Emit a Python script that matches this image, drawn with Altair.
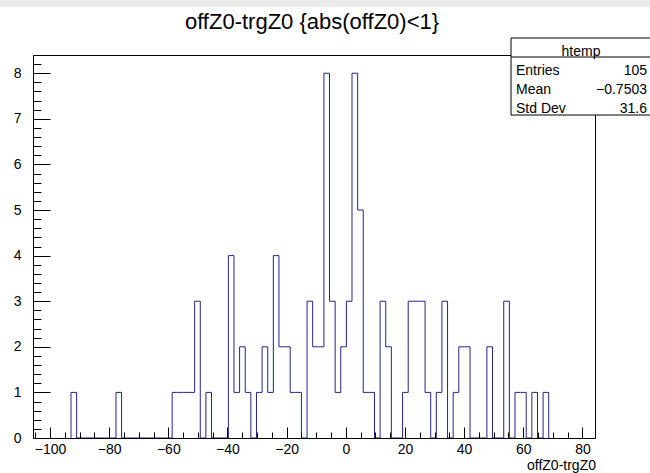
import altair as alt
import pandas as pd

FONT = "Liberation Sans"

# ---- data ----
title_text = "offZ0-trgZ0 {abs(offZ0)<1}"
x_axis_title = "offZ0-trgZ0"
bin_start = -92.9          # lower edge of first filled bin
bin_width = 1.9
counts = [1, 0, 0, 0, 0, 0, 0, 0, 1, 0,
          0, 0, 0, 0, 0, 0, 0, 0, 1, 1,
          1, 1, 3, 0, 1, 0, 0, 0, 4, 1,
          2, 1, 0, 1, 2, 1, 4, 2, 2, 1,
          1, 0, 3, 2, 2, 8, 3, 1, 2, 3,
          8, 5, 1, 1, 0, 3, 2, 0, 0, 1,
          3, 3, 3, 1, 0, 1, 3, 0, 1, 2,
          2, 0, 0, 0, 2, 0, 0, 3, 0, 1,
          1, 0, 1, 0, 1]
x_major = [-100, -80, -60, -40, -20, 0, 20, 40, 60, 80]
x_minor = list(range(-105, 85, 5))
y_major = [0, 1, 2, 3, 4, 5, 6, 7, 8]
y_minor = [round(0.2 * i, 1) for i in range(43)]
x_domain = [-105.75, 84.25]
y_domain = [0, 8.4]
stat_title = "htemp"
stat_names = ["Entries", "Mean", "Std Dev"]
stat_values = ["105", "\u22120.7503", "31.6"]

# ---- histogram outline vertices ----
xs, ys = [bin_start], [0]
for i, c in enumerate(counts):
    lo = bin_start + i * bin_width
    xs += [lo, lo + bin_width]
    ys += [c, c]
xs.append(bin_start + len(counts) * bin_width)
ys.append(0)
hist_df = pd.DataFrame({"x": xs, "y": ys, "o": list(range(len(xs)))})
one = pd.DataFrame({"a": [0]})

W, H = 562, 383
PL, PT = 33, 55

xsc = alt.Scale(domain=x_domain, nice=False, zero=False)
ysc = alt.Scale(domain=y_domain, nice=False, zero=False)

hist = alt.Chart(hist_df).mark_line(color="#24248a", strokeWidth=1, clip=True).encode(
    x=alt.X("x:Q", scale=xsc, axis=alt.Axis(values=x_major, tickSize=0, domain=False, grid=False,
                                             labelFont=FONT, labelFontSize=14, labelColor="black",
                                             labelPadding=4, labelFlush=False, labelOverlap=False,
                                             title=None)),
    y=alt.Y("y:Q", scale=ysc, axis=alt.Axis(values=y_major, tickSize=0, domain=False, grid=False,
                                             labelFont=FONT, labelFontSize=14, labelColor="black",
                                             labelPadding=12, labelFlush=False, labelOverlap=False,
                                             title=None)),
    order="o:Q",
)

major = alt.Chart(hist_df).mark_point(opacity=0).encode(
    x=alt.X("x:Q", scale=xsc, axis=alt.Axis(orient="top", offset=-H, values=x_major, tickSize=11,
                                             labels=False, domain=False, grid=False, title=None,
                                             tickColor="black", zindex=1)),
    y=alt.Y("y:Q", scale=ysc, axis=alt.Axis(orient="right", offset=-W, values=y_major, tickSize=17,
                                             labels=False, domain=False, grid=False, title=None,
                                             tickColor="black", zindex=1)),
)

minor = alt.Chart(hist_df).mark_point(opacity=0).encode(
    x=alt.X("x:Q", scale=xsc, axis=alt.Axis(orient="top", offset=-H, values=x_minor, tickSize=6,
                                             labels=False, domain=False, grid=False, title=None,
                                             tickColor="black", zindex=1)),
    y=alt.Y("y:Q", scale=ysc, axis=alt.Axis(orient="right", offset=-W, values=y_minor, tickSize=8,
                                             labels=False, domain=False, grid=False, title=None,
                                             tickColor="black", zindex=1)),
)

# top grey strip of the canvas
strip = alt.Chart(one).mark_rect(color="#ececec").encode(
    x=alt.value(-PL), x2=alt.value(650 - PL), y=alt.value(-PT), y2=alt.value(7 - PT))

title = alt.Chart(one).mark_text(font=FONT, fontSize=22, align="center", baseline="alphabetic",
                                 color="black").encode(
    x=alt.value(312 - PL), y=alt.value(29 - PT), text=alt.value(title_text))

xtitle = alt.Chart(one).mark_text(font=FONT, fontSize=14, align="right", baseline="alphabetic",
                                  color="black").encode(
    x=alt.value(W + 1), y=alt.value(470 - PT), text=alt.value(x_axis_title))

# stat box (its right side runs past the picture's edge)
bx0, bx1, by0, by1 = 511 - PL, 655 - PL, 38 - PT, 115 - PT
box = alt.Chart(one).mark_rect(fill="white", stroke="black", strokeWidth=1).encode(
    x=alt.value(bx0), x2=alt.value(bx1), y=alt.value(by0), y2=alt.value(by1))
sep = alt.Chart(one).mark_rule(color="black", strokeWidth=1).encode(
    x=alt.value(bx0), x2=alt.value(bx1), y=alt.value(57 - PT))
layers = [strip, hist, major, minor, box, sep, title, xtitle]
layers.append(alt.Chart(one).mark_text(font=FONT, fontSize=14, align="center", color="black").encode(
    x=alt.value(581 - PL), y=alt.value(52 - PT), text=alt.value(stat_title)))
row_base = [71, 90, 109]
for name, val, yb in zip(stat_names, stat_values, row_base):
    layers.append(alt.Chart(one).mark_text(font=FONT, fontSize=14, align="left", color="black").encode(
        x=alt.value(516 - PL), y=alt.value(yb - PT), text=alt.value(name)))
    layers.append(alt.Chart(one).mark_text(font=FONT, fontSize=14, align="right", color="black").encode(
        x=alt.value(647 - PL), y=alt.value(yb - PT), text=alt.value(val)))

chart = alt.layer(*layers).resolve_axis(x="independent", y="independent").properties(
    width=W, height=H,
    autosize=alt.AutoSizeParams(type="none"),
    padding={"left": PL, "top": PT, "right": 650 - PL - W, "bottom": 473 - PT - H},
    background="white",
).configure_view(stroke="black", strokeWidth=1)

chart.save("out.html", embed_options={"renderer": "svg", "actions": False})
